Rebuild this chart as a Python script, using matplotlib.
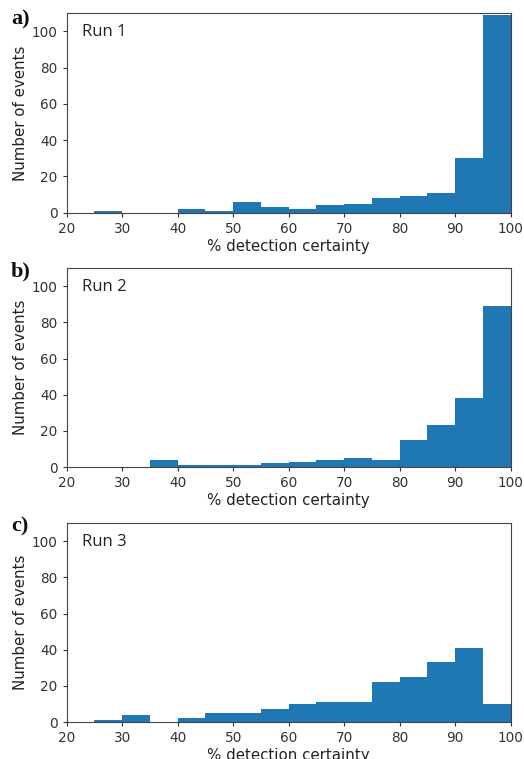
import matplotlib
matplotlib.use("Agg")
import matplotlib.pyplot as plt
import numpy as np

bin_edges = [20, 25, 30, 35, 40, 45, 50, 55, 60, 65, 70, 75, 80, 85, 90, 95, 100]
run1_counts = [0, 1, 0, 0, 2, 1, 6, 3, 2, 4, 5, 8, 9, 11, 30, 109]
run2_counts = [0, 0, 0, 4, 1, 1, 1, 2, 3, 4, 5, 4, 15, 23, 38, 89]
run3_counts = [0, 1, 4, 0, 2, 5, 5, 7, 10, 11, 11, 22, 25, 33, 41, 10]
run_names = ["Run 1", "Run 2", "Run 3"]
panel_letters = ["a)", "b)", "c)"]
x_ticks = [20, 30, 40, 50, 60, 70, 80, 90, 100]
y_ticks = [0, 20, 40, 60, 80, 100]

W, H = 524, 759
fig = plt.figure(figsize=(W / 100, H / 100), dpi=100)

# axes boxes in pixels: (left, top, right, bottom)
boxes = [(66.7, 13.3, 510.7, 212.7),
         (66.7, 268.3, 510.7, 467.0),
         (66.7, 523.3, 510.7, 722.0)]
letter_y = [19, 271, 526]

all_counts = [run1_counts, run2_counts, run3_counts]
for i, (counts, name, letter, (l, t, r, b)) in enumerate(zip(all_counts, run_names, panel_letters, boxes)):
    ax = fig.add_axes([l / W, 1 - b / H, (r - l) / W, (b - t) / H])
    ax.hist(bin_edges[:-1], bins=bin_edges, weights=counts, color="#1f77b4")
    ax.set_xlim(20, 100)
    ax.set_ylim(0, 110)
    ax.set_xticks(x_ticks)
    ax.set_yticks(y_ticks)
    ax.tick_params(labelsize=9.8, colors="#333333", length=3)
    for s in ax.spines.values():
        s.set_color("#444444")
        s.set_linewidth(0.8)
    ax.set_xlabel("% detection certainty", fontsize=10.8, color="#222222", labelpad=2)
    ax.set_ylabel("Number of events", fontsize=10.8, color="#222222", labelpad=3)
    ax.text(0.034, 0.905, name, transform=ax.transAxes, fontsize=12, color="#222222",
            family=["Open Sans", "DejaVu Sans"], ha="left", va="center")
    fig.text(11 / W, 1 - letter_y[i] / H, letter, fontsize=16, fontweight="bold",
             family="Liberation Serif", ha="left", va="center", color="#111111")

fig.savefig("out.png", dpi=100)
